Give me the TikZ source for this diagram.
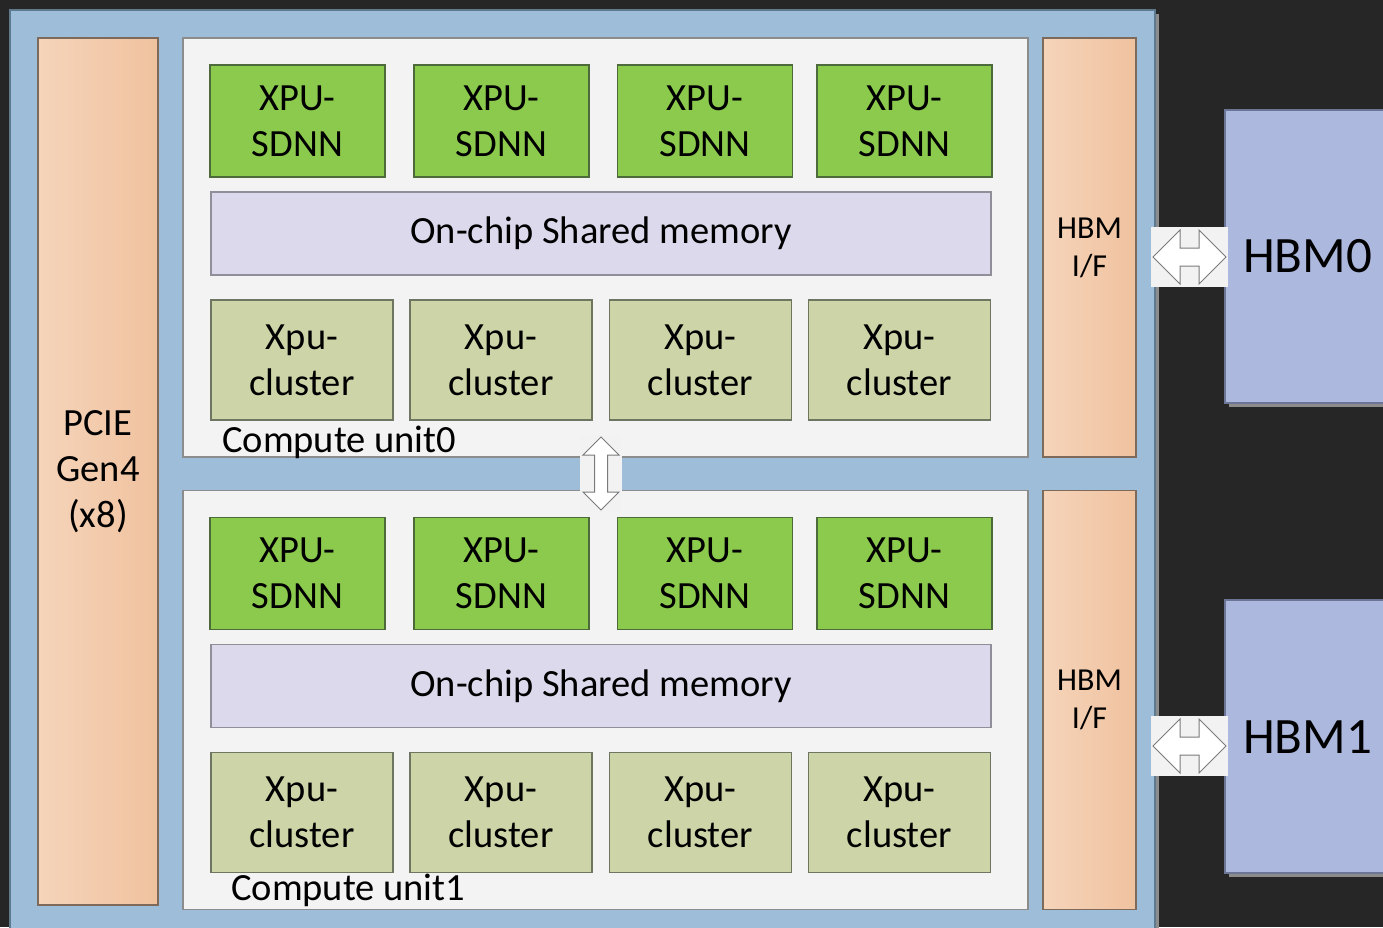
\documentclass[tikz,border=0pt]{standalone}
\usepackage{fontspec}
\setmainfont{Carlito}
\usepackage{tikz}
\usetikzlibrary{positioning}
\definecolor{darkbg}{HTML}{262626}
\definecolor{chipblue}{HTML}{9EBDD9}
\definecolor{chipline}{HTML}{5E7A8F}
\definecolor{peachL}{HTML}{F5D4BA}
\definecolor{peachR}{HTML}{F0C29F}
\definecolor{peachline}{HTML}{7D6A5A}
\definecolor{unitfill}{HTML}{F3F3F3}
\definecolor{unitline}{HTML}{8C8C8C}
\definecolor{sdnn}{HTML}{8CCA4D}
\definecolor{sdnnline}{HTML}{4D6B3A}
\definecolor{shmem}{HTML}{DDD9EC}
\definecolor{shmemline}{HTML}{8F8E99}
\definecolor{cluster}{HTML}{CDD5A8}
\definecolor{clusterline}{HTML}{6E7560}
\definecolor{hbmblue}{HTML}{ACB8DD}
\definecolor{hbmline}{HTML}{6C7595}
\definecolor{arrline}{HTML}{7A7A7A}

\tikzset{
  box/.style={rectangle, inner sep=0pt, align=center, line width=1.2pt},
  unitbox/.style={box, fill=unitfill, draw=unitline},
  sdnnbox/.style={box, fill=sdnn, draw=sdnnline, minimum width=175, minimum height=112,
    font=\fontsize{38.5}{46}\selectfont},
  membox/.style={box, fill=shmem, draw=shmemline, minimum width=780, minimum height=83,
    font=\fontsize{38.5}{44}\selectfont},
  clusterbox/.style={box, fill=cluster, draw=clusterline, minimum width=182, minimum height=120,
    font=\fontsize{38.5}{46}\selectfont},
  peachbox/.style={box, left color=peachL, right color=peachR, draw=peachline},
  hbmbox/.style={box, fill=hbmblue, draw=hbmline, minimum width=170},
  blockarrow/.style={draw=arrline, fill=white, line width=1pt, line join=miter},
}

\begin{document}
\begin{tikzpicture}[x=1pt, y=-1pt]
  \useasboundingbox (0,0) rectangle (1383,927);
  \clip (0,0) rectangle (1383,927);
  \fill[darkbg] (0,0) rectangle (1383,927);

  % chip outline
  \fill[black!45] (14,14) rectangle (1159,944);
  \node[box, fill=chipblue, draw=chipline, minimum width=1145, minimum height=930] (chip) at (582.5,475) {};

  \node[peachbox, minimum width=120, minimum height=867,
    font=\fontsize{38.5}{46}\selectfont] (pcie) at (98,471.5) {PCIE\\Gen4\\(x8)};

  % compute units
  \foreach \u/\dy in {0/0,1/452.5} {
    \node[unitbox, minimum width=845, minimum height=419] (cu\u) at (605.5,247.5+\dy) {};
    \foreach \i/\sx/\cx in {0/297.5/302,1/501.5/501,2/705/700.5,3/904.5/899.5} {
      \node[sdnnbox] (sdnn\u\i) at (\sx,121+\dy) {XPU-\\SDNN};
      \node[clusterbox] (clu\u\i) at (\cx,360+\dy) {Xpu-\\cluster};
    }
    \node[membox] (mem\u) at (601,233.5+\dy) {On-chip Shared memory};
    \node[peachbox, minimum width=93, minimum height=419,
      font=\fontsize{32}{38}\selectfont] (hbmif\u) at (1089.5,247.5+\dy) {HBM\\I/F};
  }
  \node[anchor=west, inner sep=0pt, font=\fontsize{38.5}{44}\selectfont] (cu0lbl) at (222,442.5) {Compute unit0};
  \node[anchor=west, inner sep=0pt, font=\fontsize{38.5}{44}\selectfont] (cu1lbl) at (231,890.5) {Compute unit1};

  % memories
  \fill[black!45] (1229,114) rectangle (1399,407);
  \fill[black!45] (1229,604) rectangle (1399,877);
  \node[hbmbox, minimum height=293] (hbm0) at (1310,256.5) {};
  \node[hbmbox, minimum height=273] (hbm1) at (1310,736.5) {};
  \node[anchor=west, inner sep=0pt, font=\fontsize{51}{56}\selectfont] (hbm0lbl) at (1243,256) {HBM0};
  \node[anchor=west, inner sep=0pt, font=\fontsize{51}{56}\selectfont] (hbm1lbl) at (1243,737) {HBM1};

  % links
  \foreach \y in {257,746} {
    \fill[white!95!black] (1151,\y-30) rectangle (1228,\y+30);
    \draw[blockarrow] (1153,\y) -- (1180,\y-27) -- (1180,\y-9) -- (1199,\y-9) -- (1199,\y-27)
      -- (1226,\y) -- (1199,\y+27) -- (1199,\y+9) -- (1180,\y+9) -- (1180,\y+27) -- cycle;
  }
  \fill[white!95!black] (580,435) rectangle (622,512);
  \draw[blockarrow] (601,437) -- (619,455) -- (607.5,455) -- (607.5,492) -- (619,492)
    -- (601,510) -- (583,492) -- (594.5,492) -- (594.5,455) -- (583,455) -- cycle;
\end{tikzpicture}
\end{document}
